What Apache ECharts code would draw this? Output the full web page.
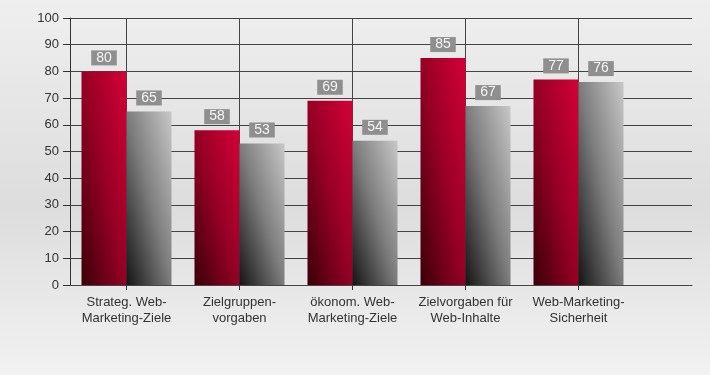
<!DOCTYPE html>
<html>
<head>
<meta charset="utf-8">
<script src="https://cdn.jsdelivr.net/npm/echarts@6/dist/echarts.min.js"></script>
<style>
html,body{margin:0;padding:0;}
#c{width:710px;height:375px;}
</style>
</head>
<body>
<div id="c"></div>
<script>
var categories = ['Strateg. Web-\nMarketing-Ziele', 'Zielgruppen-\nvorgaben', 'ökonom. Web-\nMarketing-Ziele', 'Zielvorgaben für\nWeb-Inhalte', 'Web-Marketing-\nSicherheit'];
var seriesA = [80, 58, 69, 85, 77];
var seriesB = [65, 53, 54, 67, 76];
var yTicks = [0, 10, 20, 30, 40, 50, 60, 70, 80, 90, 100];

var FONT = '"Liberation Sans", Arial, sans-serif';
var BAR_W = 45;
var GRID_H = 267;

function diagGradient(h, stops) {
  var a = 1 / (BAR_W * BAR_W), b = 1 / (Math.max(h, 1) * Math.max(h, 1));
  return new echarts.graphic.LinearGradient(0, 1, 2 * a / (a + b), 1 - 2 * b / (a + b), stops);
}
var redStops = [{offset: 0, color: '#3a0008'}, {offset: 0.5, color: '#960025'}, {offset: 1, color: '#d40037'}];
var greyStops = [{offset: 0, color: '#141414'}, {offset: 0.5, color: '#7c7c7c'}, {offset: 1, color: '#c8c8c8'}];

function buildData(vals, stops) {
  return vals.map(function (v) {
    return { value: v, itemStyle: { color: diagGradient(v / 100 * GRID_H, stops) } };
  });
}

var labelCfg = {
  show: true, position: 'top', distance: 6,
  backgroundColor: '#8f8f8f', color: '#f5f5f5',
  fontFamily: FONT, fontSize: 14, lineHeight: 15, padding: [0, 5, 0, 5]
};

var chart = echarts.init(document.getElementById('c'), null, {renderer: 'canvas'});
chart.setOption({
  animation: false,
  backgroundColor: new echarts.graphic.LinearGradient(0, 0, 0, 1, [
    {offset: 0, color: '#efefef'}, {offset: 0.55, color: '#dddddd'}, {offset: 1, color: '#f2f2f2'}
  ]),
  grid: [
    {left: 70, top: 18, width: 565, height: GRID_H},
    {left: 70, top: 18, width: 622, height: GRID_H}
  ],
  xAxis: [
    {
      type: 'category', gridIndex: 0, data: categories,
      axisLine: {show: false},
      axisTick: {show: true, alignWithLabel: true, interval: 0, length: 5, lineStyle: {color: '#333'}},
      axisLabel: {interval: 0, fontFamily: FONT, fontSize: 13, color: '#333', lineHeight: 16, margin: 9},
      splitLine: {show: true, alignWithLabel: true, interval: 0, lineStyle: {color: '#444', width: 1}}
    },
    {
      type: 'value', gridIndex: 1, min: 0, max: 1,
      axisLine: {show: true, lineStyle: {color: '#444', width: 1}},
      axisTick: {show: false}, axisLabel: {show: false}, splitLine: {show: false}
    }
  ],
  yAxis: [
    {
      type: 'value', gridIndex: 0, min: yTicks[0], max: yTicks[yTicks.length - 1], interval: 10,
      axisLine: {show: true, lineStyle: {color: '#333'}},
      axisTick: {show: true, length: 7, lineStyle: {color: '#333'}},
      axisLabel: {fontFamily: FONT, fontSize: 13, color: '#333', margin: 11},
      splitLine: {show: false}
    },
    {
      type: 'value', gridIndex: 1, min: yTicks[0], max: yTicks[yTicks.length - 1], interval: 10,
      axisLine: {show: false}, axisTick: {show: false}, axisLabel: {show: false},
      splitLine: {show: true, lineStyle: {color: '#444', width: 1}}
    }
  ],
  series: [
    {type: 'bar', xAxisIndex: 0, yAxisIndex: 0, barWidth: BAR_W, barGap: '0%',
     data: buildData(seriesA, redStops), label: labelCfg},
    {type: 'bar', xAxisIndex: 0, yAxisIndex: 0, barWidth: BAR_W, barGap: '0%',
     data: buildData(seriesB, greyStops), label: labelCfg}
  ]
});
</script>
</body>
</html>
